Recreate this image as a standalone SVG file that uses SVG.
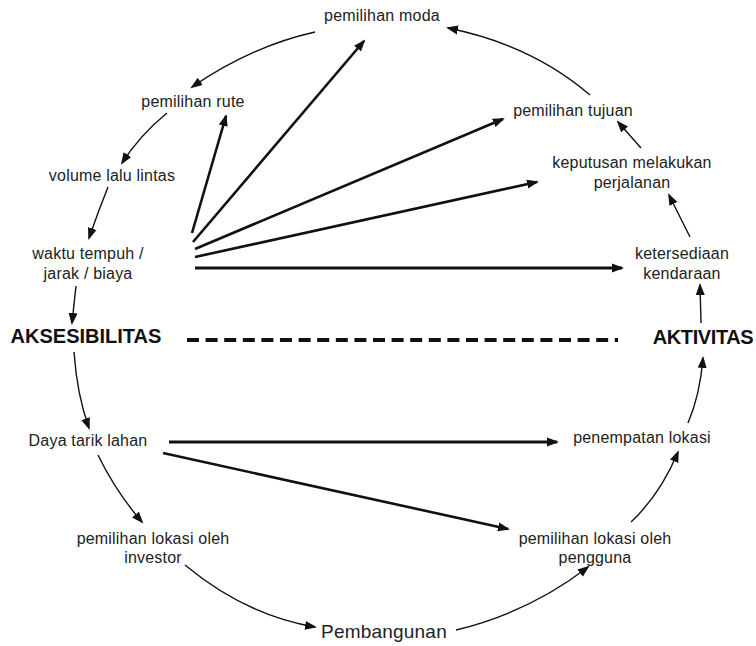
<svg xmlns="http://www.w3.org/2000/svg" width="756" height="646" viewBox="0 0 756 646">
<defs>
<style>
.t{font-family:"Liberation Sans",Arial,sans-serif;font-size:16px;fill:#222;text-anchor:middle;letter-spacing:0.2px}
.b{font-family:"Liberation Sans",Arial,sans-serif;font-size:20px;font-weight:bold;fill:#111;text-anchor:middle}
.p{font-size:19px}
.thin{fill:none;stroke:#111;stroke-width:1.4;marker-end:url(#ah)}
.thick{fill:none;stroke:#111;stroke-width:2.6;marker-end:url(#ah)}
.dash{fill:none;stroke:#111;stroke-width:4;stroke-dasharray:12 6.6}
</style>
<marker id="ah" markerUnits="userSpaceOnUse" markerWidth="13" markerHeight="10" refX="10" refY="5" orient="auto">
<path d="M0,0.5 L12,5 L0,9.5 z" fill="#111"/>
</marker>
</defs>
<rect width="756" height="646" fill="#fff"/>
<g id="connectors">
<path class="thin" d="M315,32 Q252,46 192,87"/>
<path class="thin" d="M167,113 Q140,135 122,163"/>
<path class="thin" d="M108,187 Q98,212 89,238"/>
<path class="thin" d="M76,286 L72,323"/>
<path class="thin" d="M74,352 Q77,395 89,428"/>
<path class="thin" d="M98,455 Q116,492 142,522"/>
<path class="thin" d="M185,565 Q245,615 315,627"/>
<path class="thin" d="M456,630 Q530,612 588,567"/>
<path class="thin" d="M631,522 Q660,495 678,452"/>
<path class="thin" d="M688,423 Q700,395 703,358"/>
<path class="thin" d="M701,323 L700,285"/>
<path class="thin" d="M690,237 L669,195"/>
<path class="thin" d="M641,148 L618,122"/>
<path class="thin" d="M590,95 Q532,45 448,28"/>
<path class="thick" d="M192,233 L226,116"/>
<path class="thick" d="M193,242 L364,41"/>
<path class="thick" d="M195,249 L503,119"/>
<path class="thick" d="M195,257 L537,182"/>
<path class="thick" d="M195,268 L622,268" style="stroke-width:3"/>
<path class="thick" d="M169,442 L557,442" style="stroke-width:3"/>
<path class="thick" d="M163,453 L508,529"/>
<path class="dash" d="M187,340 L618,340"/>
</g>
<g id="pemilihan-moda"><text class="t" x="382" y="21">pemilihan moda</text></g>
<g id="pemilihan-rute"><text class="t" x="193" y="107">pemilihan rute</text></g>
<g id="volume-lalu-lintas"><text class="t" x="112" y="181">volume lalu lintas</text></g>
<g id="waktu-tempuh"><text class="t" x="88" y="259">waktu tempuh /</text><text class="t" x="88" y="279">jarak / biaya</text></g>
<g id="aksesibilitas"><text class="b" x="86" y="343">AKSESIBILITAS</text></g>
<g id="aktivitas"><text class="b" x="703" y="344" style="letter-spacing:-0.4px">AKTIVITAS</text></g>
<g id="ketersediaan"><text class="t" x="682" y="259">ketersediaan</text><text class="t" x="682" y="279">kendaraan</text></g>
<g id="keputusan"><text class="t" x="632" y="168">keputusan melakukan</text><text class="t" x="632" y="188">perjalanan</text></g>
<g id="pemilihan-tujuan"><text class="t" x="573" y="116">pemilihan tujuan</text></g>
<g id="daya-tarik"><text class="t" x="88" y="446">Daya tarik lahan</text></g>
<g id="lokasi-investor"><text class="t" x="153" y="544">pemilihan lokasi oleh</text><text class="t" x="153" y="563">investor</text></g>
<g id="pembangunan"><text class="t p" x="384" y="638">Pembangunan</text></g>
<g id="lokasi-pengguna"><text class="t" x="595" y="544">pemilihan lokasi oleh</text><text class="t" x="595" y="563">pengguna</text></g>
<g id="penempatan-lokasi"><text class="t" x="642" y="443">penempatan lokasi</text></g>
</svg>
